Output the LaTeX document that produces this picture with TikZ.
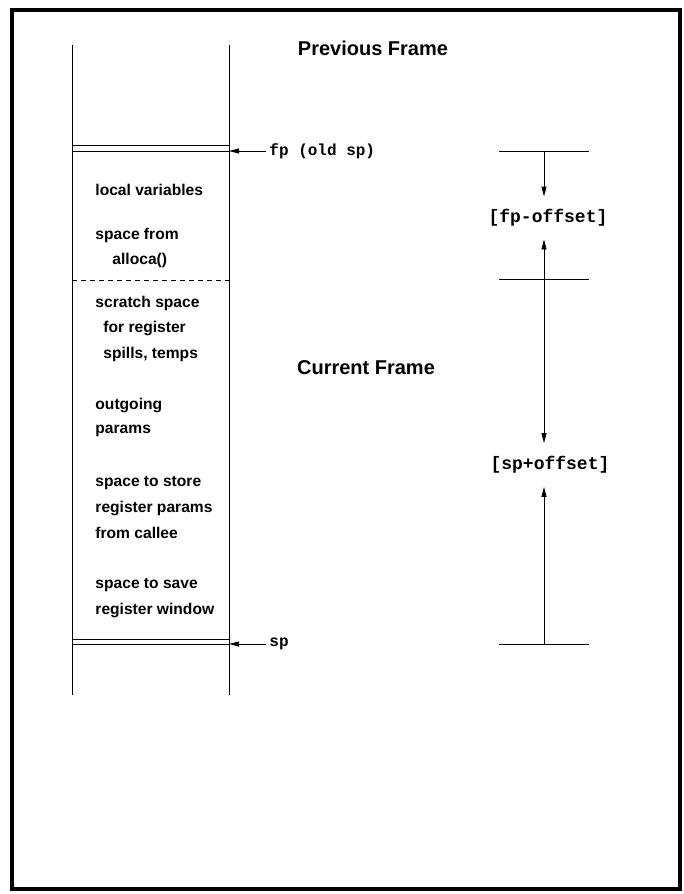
\documentclass[tikz,border=0pt]{standalone}
\usepackage{fontspec}
\setmainfont{Liberation Sans}
\setmonofont{Liberation Mono}
\usetikzlibrary{arrows.meta}

\begin{document}
\begin{tikzpicture}[x=1pt, y=-1pt, line width=0.9pt, > = {Triangle[length=10pt,width=5pt]},
	slot/.style={anchor=west, inner sep=0pt, font=\fontsize{15.6}{18}\selectfont\bfseries},
	title/.style={inner sep=0pt, font=\fontsize{20}{24}\selectfont\bfseries},
	reg/.style={anchor=west, inner sep=3pt, font=\fontsize{16}{19}\selectfont\ttfamily\bfseries},
	offs/.style={inner sep=0pt, minimum height=42pt, font=\fontsize{18}{21}\selectfont\ttfamily\bfseries}]
	\useasboundingbox (0,0) rectangle (683,894);
	\draw[line width=4pt] (12,10) rectangle (680,889); % page frame

	% the stack
	\draw (72,45) -- (72,695);
	\draw (229,45) -- (229,695);
	\draw (72,145) -- (229,145);
	\draw (72,151) coordinate (fpleft) -- (229,151) coordinate (fpright);
	\draw[dash pattern=on 5pt off 4pt] (72,280) -- (229,280);
	\draw (72,639) -- (229,639);
	\draw (72,644) coordinate (spleft) -- (229,644) coordinate (spright);

	\node[title] (prevfr) at (373,48) {Previous Frame};
	\node[title] (curfr) at (366,368) {Current Frame};

	\node[slot] (locals) at (95,190) {local variables};
	\node[slot] (alloc1) at (95,235) {space from};
	\node[slot] (alloc2) at (112,260) {alloca()};
	\node[slot] (scr1) at (95,303) {scratch space};
	\node[slot] (scr2) at (103,328) {for register};
	\node[slot] (scr3) at (103,354) {spills, temps};
	\node[slot] (out1) at (95,405) {outgoing};
	\node[slot] (out2) at (95,431) {params};
	\node[slot] (store1) at (95,483) {space to store};
	\node[slot] (store2) at (95,508) {register params};
	\node[slot] (store3) at (95,533) {from callee};
	\node[slot] (save1) at (95,585) {space to save};
	\node[slot] (save2) at (95,610) {register window};

	\node[reg] (fplab) at (266,151) {fp (old sp)};
	\draw[->] (fplab.west) -- (fpright);
	\node[reg] (splab) at (266,644) {sp};
	\draw[->] (splab.west) -- (spright);

	% offsets on the right
	\draw (499,151) -- (589,151) coordinate[pos=0.5] (fpmark);
	\draw (499,279) -- (589,279) coordinate[pos=0.5] (midmark);
	\draw (499,644) -- (589,644) coordinate[pos=0.5] (spmark);
	\node[offs] (fpoff) at (548,218) {[fp-offset]};
	\node[offs, minimum height=43pt] (spoff) at (550,465) {[sp+offset]};
	\draw[->] (fpmark) -- (fpmark |- fpoff.north);
	\draw[->] (midmark) -- (midmark |- fpoff.south);
	\draw[->] (midmark) -- (midmark |- spoff.north);
	\draw[->] (spmark) -- (spmark |- spoff.south);
\end{tikzpicture}
\end{document}
